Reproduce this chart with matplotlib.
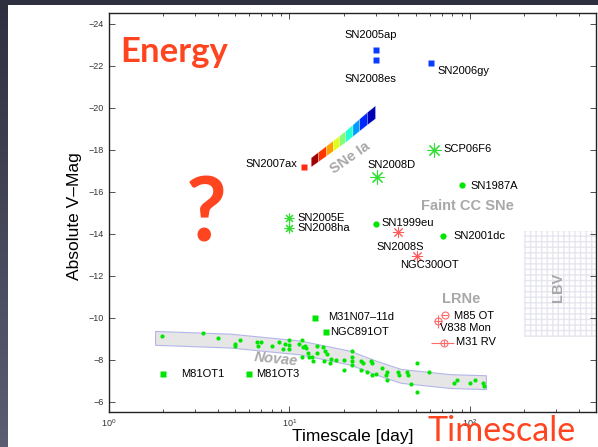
import matplotlib
matplotlib.use('Agg')
import matplotlib.pyplot as plt
import numpy as np
from matplotlib.patches import Rectangle, Polygon

plt.rcParams['font.family'] = ['Liberation Sans', 'DejaVu Sans']

# ---- data: timescale [day], absolute V magnitude ----
blue_days = [30.0, 30.0, 60.7]
blue_mag = [-22.76, -22.24, -22.14]

ax07_days = [12.0]
ax07_mag = [-17.19]

big_star_days = [30.4, 63.0]          # SN2008D, SCP06F6
big_star_mag = [-16.7, -18.0]
small_star_days = [10.0, 10.0]        # SN2005E, SN2008ha
small_star_mag = [-14.76, -14.24]

cc_days = [91.0, 30.0, 70.8]          # SN1987A, SN1999eu, SN2001dc
cc_mag = [-16.3, -14.43, -13.9]

red_star_days = [40.0, 50.8]          # SN2008S, NGC300OT
red_star_mag = [-14.05, -12.95]

ot_days = [13.9, 16.0, 2.0, 6.0]      # M31N07-11d, NGC891OT, M81OT1, M81OT3
ot_mag = [-10.0, -9.29, -7.33, -7.33]

# luminous red novae
m85_days, m85_mag = 72.6, -10.10
v838_days, v838_mag = 66.4, -9.81
m31rv_days, m31rv_mag = 71.7, -8.8
m31rv_xerr = [[11.0], [9.8]]

# SNe Ia width-luminosity strip
ia_days = [13.2, 14.5, 16.0, 17.5, 19.0, 20.5, 22.5, 24.5, 27.0, 30.0]
ia_mag = [-17.38, -17.64, -17.91, -18.16, -18.39, -18.60, -18.89, -19.16, -19.46, -19.77]
ia_half = [0.22, 0.23, 0.24, 0.25, 0.26, 0.27, 0.28, 0.29, 0.30, 0.31]

# classical novae
nova_days = [1.96, 3.32, 4.0, 5.29, 5.01, 4.97, 6.62, 6.67, 6.96, 8.01, 8.72, 9.5, 9.23,
             9.91, 10.0, 10.0, 11.27, 11.77, 11.92, 12.43, 12.64, 11.77, 12.8, 13.47,
             14.25, 12.27, 13.37, 14.13, 15.39, 15.65, 16.06, 15.52, 16.9, 16.74, 18.23,
             20.0, 20.0, 22.3, 22.3, 22.3, 22.3, 25.0, 25.7, 24.8, 28.2, 28.8, 27.0, 28.8,
             30.0, 32.7, 34.2, 34.9, 34.6, 40.0, 40.5, 44.7, 45.4, 47.0, 50.8, 50.8, 59.4,
             81.2, 84.7, 100.4, 106.6, 117.7, 119.1]
nova_mag = [-9.14, -9.24, -9.03, -8.92, -8.76, -8.63, -8.82, -8.63, -8.82, -8.63, -8.82,
            -8.76, -8.51, -8.92, -8.71, -8.51, -8.76, -8.92, -8.60, -8.56, -8.32, -8.13,
            -8.13, -7.92, -8.32, -8.63, -8.13, -8.63, -8.60, -8.40, -8.24, -7.92, -8.03,
            -7.84, -8.0, -8.0, -7.52, -8.40, -8.13, -7.92, -7.76, -7.92, -7.84, -7.52,
            -7.92, -7.81, -7.40, -7.24, -7.29, -7.60, -7.24, -7.40, -7.01, -7.40, -7.24,
            -7.40, -7.24, -6.81, -7.84, -6.44, -7.40, -6.89, -7.01, -6.89, -7.01, -6.86,
            -6.73]
nova_band_days = [1.8, 4.7, 11.5, 21.8, 30.0, 41.4, 78.4, 122.7]
nova_band_mag = [-9.03, -8.90, -8.57, -8.08, -7.62, -7.22, -6.97, -6.92]
nova_band_half = 0.33

# LBV region
lbv_days = (200.0, 500.0)
lbv_mag = (-9.05, -14.1)

# object names: (text, days, mag, ha)
names = [
    ('SN2005ap', 28.2, -23.43, 'center'),
    ('SN2008es', 28.2, -21.38, 'center'),
    ('SN2006gy', 66.4, -21.76, 'left'),
    ('SN2007ax', 11.08, -17.33, 'right'),
    ('SN2008D', 36.9, -17.24, 'center'),
    ('SCP06F6', 71.7, -18.0, 'left'),
    ('SN1987A', 101.0, -16.24, 'left'),
    ('SN2005E', 11.08, -14.76, 'left'),
    ('SN2008ha', 11.08, -14.24, 'left'),
    ('SN1999eu', 32.5, -14.52, 'left'),
    ('SN2008S', 41.1, -13.38, 'center'),
    ('NGC300OT', 59.6, -12.48, 'center'),
    ('SN2001dc', 81.5, -13.9, 'left'),
    ('M31N07\u201311d', 16.3, -10.0, 'left'),
    ('NGC891OT', 16.7, -9.29, 'left'),
    ('M85 OT', 81.5, -10.05, 'left'),
    ('V838 Mon', 68.1, -9.52, 'left'),
    ('M31 RV', 83.6, -8.81, 'left'),
    ('M81OT1', 2.51, -7.33, 'left'),
    ('M81OT3', 6.56, -7.33, 'left'),
]

# class labels: (text, days, mag, rotation, style)
classes = [
    ('SNe Ia', 21.8, -17.62, 35, 'normal'),
    ('Faint CC SNe', 97.5, -15.29, 0, 'normal'),
    ('LRNe', 89.1, -10.86, 0, 'normal'),
    ('Novae', 8.47, -8.02, -6, 'italic'),
    ('LBV', 308.0, -11.43, 90, 'normal'),
]

red = '#ff4520'
grey = '#a8a8a8'
green = '#00e600'

fig = plt.figure(figsize=(5.98, 4.47), dpi=100)

# dark slide background with a white panel
bg = fig.add_axes([0, 0, 1, 1])
grad = np.linspace(0, 1, 256).reshape(-1, 1)
bg.imshow(grad, aspect='auto', cmap=matplotlib.colors.LinearSegmentedColormap.from_list(
    'slide', ['#5b5e72', '#2e3040']), extent=[0, 1, 0, 1], origin='lower')
bg.add_patch(Rectangle((8 / 598, 0), 1, 1 - 5 / 447, facecolor='white', edgecolor='none'))
bg.set_xlim(0, 1)
bg.set_ylim(0, 1)
bg.axis('off')

ax = fig.add_axes([109 / 598, 35 / 447, 487 / 598, 399 / 447])
ax.set_xscale('log')
ax.set_xlim(1, 500)
ax.set_ylim(-5.5, -24.5)

################# BANDS ##############
ax.add_patch(Rectangle((lbv_days[0], lbv_mag[0]), lbv_days[1] - lbv_days[0],
                       lbv_mag[1] - lbv_mag[0], facecolor='white', edgecolor='#e6e6ee',
                       hatch='+++', lw=0, zorder=0))

nb_lo = [m - nova_band_half for m in nova_band_mag]
nb_hi = [m + nova_band_half for m in nova_band_mag]
ax.fill_between(nova_band_days, nb_lo, nb_hi, facecolor='#e6e6e6',
                edgecolor='#b4b6ea', lw=0.8, zorder=1)

jet = plt.get_cmap('jet_r')
for i in range(len(ia_days) - 1):
    poly = [(ia_days[i], ia_mag[i] - ia_half[i]), (ia_days[i + 1], ia_mag[i + 1] - ia_half[i + 1]),
            (ia_days[i + 1], ia_mag[i + 1] + ia_half[i + 1]), (ia_days[i], ia_mag[i] + ia_half[i])]
    c = jet(0.03 + 0.92 * i / (len(ia_days) - 2))
    ax.add_patch(Polygon(poly, closed=True, facecolor=c, edgecolor='white', lw=0.2, zorder=2))

################# POINTS ##############
ax.plot(nova_days, nova_mag, 'o', color=green, ms=3, mec='none', zorder=3)
ax.plot(blue_days, blue_mag, 's', color='#0a3cff', ms=4, mec='none', zorder=4)
ax.plot(ax07_days, ax07_mag, 's', color='#ff2a10', ms=4, mec='none', zorder=4)
ax.plot(big_star_days, big_star_mag, linestyle='none', marker=(8, 2, 0), color='#33dd33',
        ms=10, mew=0.8, zorder=4)
ax.plot(small_star_days, small_star_mag, linestyle='none', marker=(8, 2, 0), color='#33dd33',
        ms=7, mew=0.8, zorder=4)
ax.plot(cc_days, cc_mag, 'o', color=green, ms=4.5, mec='none', zorder=4)
ax.plot(red_star_days, red_star_mag, linestyle='none', marker=(8, 2, 0), color='#ff5a5a',
        ms=8, mew=0.7, zorder=4)
ax.plot(ot_days, ot_mag, 's', color=green, ms=4, mec='none', zorder=4)

lrn = '#ff6a6a'
ax.errorbar([m85_days], [m85_mag], xerr=[[3.0], [3.0]], fmt='o', color=lrn, mfc='none',
            ms=5, mew=0.8, elinewidth=0.8, capsize=0, zorder=4)
ax.errorbar([v838_days], [v838_mag], xerr=[[3.5], [3.5]], yerr=[[0.3], [0.3]], fmt='o',
            color=lrn, mfc='none', ms=5, mew=0.8, elinewidth=0.8, capsize=0, zorder=4)
ax.errorbar([m31rv_days], [m31rv_mag], xerr=m31rv_xerr, yerr=[[0.15], [0.15]], fmt='o',
            color=lrn, mfc='none', ms=5, mew=0.8, elinewidth=0.8, capsize=0, zorder=4)

################# TEXT ##############
for txt, d, m, ha in names:
    ax.text(d, m, txt, ha=ha, va='center', fontsize=8, zorder=5)
for txt, d, m, rot, style in classes:
    ax.text(d, m, txt, ha='center', va='center', fontsize=10.5, fontweight='bold',
            style=style, color=grey, rotation=rot, zorder=5)

ax.set_xlabel('Timescale [day]', fontsize=12.5)
ax.set_ylabel('Absolute V\u2013Mag', fontsize=12.5)
ax.xaxis.set_label_coords(0.5, -0.043)
ax.yaxis.set_label_coords(-0.055, 0.49)

ax.set_yticks(np.arange(-24, -5, 2))
ax.tick_params(which='both', direction='in', top=True, right=True, labelsize=6.5,
               width=0.6, colors='#333333', labelcolor='#333333')
ax.tick_params(which='major', length=4)
ax.tick_params(which='minor', length=2)
ax.tick_params(axis='x', pad=4)
for s in ax.spines.values():
    s.set_linewidth(1.0)
    s.set_color('#222222')

# slide annotations
fig.text(120 / 598, 1 - 62 / 447, 'Energy', color=red, fontsize=25, fontweight='bold',
         family='Lato', va='baseline', ha='left')
fig.text(206 / 598, 1 - 242 / 447, '?', color=red, fontsize=64, fontweight='bold',
         family='Lato', va='baseline', ha='center')
fig.text(427 / 598, 1 - 441 / 447, 'Timescale', color=red, fontsize=24.5,
         family='Lato', va='baseline', ha='left')

fig.savefig('out.png', dpi=100)
